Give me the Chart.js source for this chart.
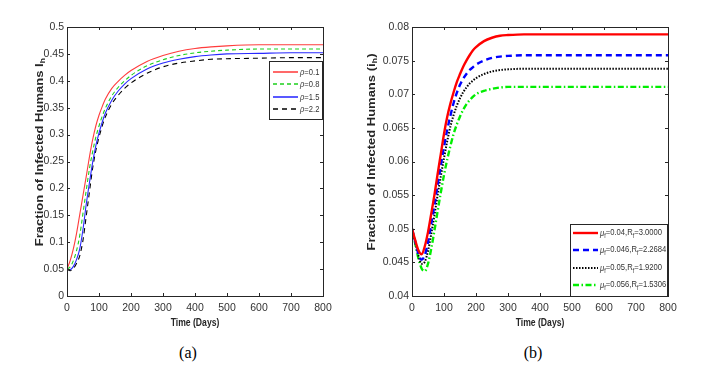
<!DOCTYPE html>
<html>
<head>
<meta charset="utf-8">
<script src="https://cdn.jsdelivr.net/npm/chart.js@4.4.0/dist/chart.umd.min.js"></script>
<style>
  body { margin: 0; background: #fff; width: 715px; height: 369px; overflow: hidden; position: relative; }
  canvas { position: absolute; top: 0; }
  #chartA { left: 0; }
  #chartB { left: 345px; }
  .cap { position: absolute; top: 344px; width: 40px; line-height: 18px; text-align: center;
         font-family: 'Liberation Serif', 'Times New Roman', serif; font-size: 16px; color: #000; }
</style>
</head>
<body>
<canvas id="chartA" width="345" height="340"></canvas>
<canvas id="chartB" width="345" height="340"></canvas>
<div class="cap" style="left:168px">(a)</div>
<div class="cap" style="left:513px">(b)</div>
<script>
// ---- data, panel (a) ----
const daysA = [0, 10, 20, 30, 40, 50, 60, 70, 80, 90, 100, 110, 120, 140, 160, 180, 200, 250, 300, 350, 400, 450, 500, 600, 700, 800];
const rho01 = [0.05, 0.066, 0.088, 0.117, 0.152, 0.187, 0.222, 0.258, 0.29, 0.316, 0.336, 0.352, 0.366, 0.386, 0.399, 0.41, 0.419, 0.436, 0.447, 0.455, 0.46, 0.463, 0.465, 0.467, 0.467, 0.467];
const rho08 = [0.05, 0.054, 0.066, 0.085, 0.113, 0.154, 0.196, 0.236, 0.268, 0.295, 0.316, 0.334, 0.349, 0.372, 0.388, 0.4, 0.41, 0.428, 0.439, 0.447, 0.452, 0.455, 0.457, 0.459, 0.459, 0.459];
const rho15 = [0.05, 0.049, 0.055, 0.068, 0.088, 0.124, 0.17, 0.21, 0.248, 0.279, 0.303, 0.323, 0.34, 0.364, 0.381, 0.394, 0.404, 0.422, 0.433, 0.44, 0.445, 0.448, 0.45, 0.451, 0.452, 0.452];
const rho22 = [0.05, 0.047, 0.051, 0.061, 0.075, 0.104, 0.148, 0.193, 0.237, 0.27, 0.295, 0.316, 0.333, 0.357, 0.373, 0.386, 0.396, 0.414, 0.426, 0.433, 0.437, 0.44, 0.441, 0.442, 0.443, 0.443];
const labelsA = ['\u03c1=0.1', '\u03c1=0.8', '\u03c1=1.5', '\u03c1=2.2'];
const yTicksA = [0, 0.05, 0.1, 0.15, 0.2, 0.25, 0.3, 0.35, 0.4, 0.45, 0.5];
const yLabelsA = ['0', '0.05', '0.1', '0.15', '0.2', '0.25', '0.3', '0.35', '0.4', '0.45', '0.5'];

// ---- data, panel (b) ----
const daysB = [0, 10, 20, 30, 40, 50, 60, 70, 80, 90, 100, 110, 120, 130, 140, 150, 160, 170, 180, 190, 200, 225, 250, 275, 300, 350, 400, 500, 600, 700, 800];
const mu040 = [0.05, 0.0483, 0.0468, 0.0462, 0.0474, 0.0495, 0.0522, 0.055, 0.0581, 0.0611, 0.0641, 0.0666, 0.0686, 0.0703, 0.0718, 0.073, 0.0741, 0.075, 0.0758, 0.0765, 0.077, 0.0779, 0.0784, 0.0787, 0.0788, 0.0789, 0.0789, 0.0789, 0.0789, 0.0789, 0.0789];
const mu046 = [0.05, 0.0481, 0.0463, 0.0454, 0.0461, 0.048, 0.0507, 0.0535, 0.0565, 0.0594, 0.0622, 0.0647, 0.0668, 0.0687, 0.0702, 0.0714, 0.0723, 0.073, 0.0736, 0.074, 0.0744, 0.075, 0.0754, 0.0756, 0.0757, 0.0758, 0.0758, 0.0758, 0.0758, 0.0758, 0.0758];
const mu050 = [0.05, 0.048, 0.046, 0.0448, 0.0451, 0.0467, 0.0492, 0.052, 0.055, 0.0578, 0.0605, 0.063, 0.0652, 0.0669, 0.0683, 0.0694, 0.0703, 0.071, 0.0716, 0.072, 0.0724, 0.073, 0.0734, 0.0736, 0.0737, 0.0738, 0.0738, 0.0738, 0.0738, 0.0738, 0.0738];
const mu056 = [0.05, 0.0478, 0.0456, 0.0441, 0.0437, 0.0448, 0.047, 0.0497, 0.0526, 0.0554, 0.058, 0.0603, 0.0623, 0.0641, 0.0655, 0.0667, 0.0677, 0.0685, 0.0691, 0.0696, 0.07, 0.0705, 0.0708, 0.071, 0.0711, 0.0711, 0.0711, 0.0711, 0.0711, 0.0711, 0.0711];
const muValues = ['0.04', '0.046', '0.05', '0.056'];
const rValues = ['3.0000', '2.2684', '1.9200', '1.5306'];
const yTicksB = [0.04, 0.045, 0.05, 0.055, 0.06, 0.065, 0.07, 0.075, 0.08];
const yLabelsB = ['0.04', '0.045', '0.05', '0.055', '0.06', '0.065', '0.07', '0.075', '0.08'];

const xTicks = [0, 100, 200, 300, 400, 500, 600, 700, 800];
const xLabels = ['0', '100', '200', '300', '400', '500', '600', '700', '800'];

const FAM = "'Liberation Sans Narrow', 'Liberation Sans', Arial, sans-serif";
const WIDE = "'Liberation Sans', Arial, sans-serif";

function pts(days, vals) {
    return days.map((d, i) => ({ x: d, y: vals[i] }));
}

// text with italic / subscript pieces
function drawRich(ctx, parts, x, y, o) {
    ctx.save();
    ctx.translate(x, y);
    if (o.rotate) ctx.rotate(o.rotate);
    ctx.scale(o.scaleX || 1, 1);
    const fontFor = p => `${p.i ? 'italic ' : ''}${o.weight || 'normal'} ${p.sub ? o.size * 0.7 : o.size}px ${o.family}`;
    let w = 0;
    parts.forEach(p => { ctx.font = fontFor(p); w += ctx.measureText(p.t).width; });
    let cx = o.align === 'left' ? 0 : -w / 2;
    ctx.textBaseline = 'middle';
    ctx.textAlign = 'left';
    ctx.fillStyle = o.color || '#262626';
    parts.forEach(p => {
        ctx.font = fontFor(p);
        ctx.fillText(p.t, cx, p.sub ? o.size * 0.32 : 0);
        cx += ctx.measureText(p.t).width;
    });
    ctx.restore();
}

// box, inward ticks, axis titles and legend box
const framePlugin = {
    id: 'frame',
    afterDraw(chart, args, opts) {
        const { ctx, chartArea: a, scales } = chart;
        ctx.save();
        ctx.strokeStyle = '#262626';
        ctx.lineWidth = 1;
        ctx.strokeRect(Math.round(a.left) + 0.5, Math.round(a.top) + 0.5, Math.round(a.width), Math.round(a.height));
        ctx.beginPath();
        scales.x.ticks.forEach(t => {
            const px = Math.round(scales.x.getPixelForValue(t.value)) + 0.5;
            ctx.moveTo(px, a.bottom); ctx.lineTo(px, a.bottom - 3);
            ctx.moveTo(px, a.top); ctx.lineTo(px, a.top + 3);
        });
        scales.y.ticks.forEach(t => {
            const py = Math.round(scales.y.getPixelForValue(t.value)) + 0.5;
            ctx.moveTo(a.left, py); ctx.lineTo(a.left + 3, py);
            ctx.moveTo(a.right, py); ctx.lineTo(a.right - 3, py);
        });
        ctx.stroke();

        drawRich(ctx, opts.xTitle, (a.left + a.right) / 2, 323, { size: 10.5, weight: 'bold', family: WIDE, scaleX: 0.82 });
        drawRich(ctx, opts.yTitle, opts.yTitleX, 152, { size: 10, weight: 'bold', family: WIDE, scaleX: 1.3, rotate: -Math.PI / 2 });

        // legend
        const L = opts.legend;
        ctx.fillStyle = '#fff';
        ctx.fillRect(L.left, L.top, L.right - L.left, L.bottom - L.top);
        ctx.strokeStyle = '#262626';
        ctx.lineWidth = 1;
        ctx.strokeRect(L.left + 0.5, L.top + 0.5, L.right - L.left, L.bottom - L.top);
        chart.data.datasets.forEach((ds, i) => {
            const y = L.rows[i];
            ctx.save();
            ctx.strokeStyle = ds.borderColor;
            ctx.lineWidth = ds.borderWidth * (L.lineScale || 1);
            ctx.setLineDash(ds.borderDash || []);
            ctx.beginPath();
            ctx.moveTo(L.lineX0, y); ctx.lineTo(L.lineX1, y);
            ctx.stroke();
            ctx.restore();
            drawRich(ctx, opts.legendText[i], L.textX, y, { size: L.size, family: WIDE, scaleX: L.scaleX, align: 'left', color: '#333' });
        });
        ctx.restore();
    }
};

function makeOptions(yMin, yMax, yTicks, yLabels, frameOpts) {
    return {
        responsive: false,
        animation: false,
        layout: { padding: { top: 27, right: 22, left: 0, bottom: 0 } },
        elements: { point: { radius: 0 }, line: { cubicInterpolationMode: 'monotone' } },
        plugins: { legend: { display: false }, tooltip: { enabled: false }, frame: frameOpts },
        scales: {
            x: {
                type: 'linear', min: 0, max: 800,
                grid: { display: false, drawTicks: false }, border: { display: false },
                afterBuildTicks: s => { s.ticks = xTicks.map(v => ({ value: v })); },
                afterFit: s => { s.height = 44; },
                ticks: { callback: v => xLabels[xTicks.indexOf(v)], padding: 6, color: '#333',
                         font: { family: FAM, size: 10.5 }, maxRotation: 0, autoSkip: false }
            },
            y: {
                type: 'linear', min: yMin, max: yMax,
                grid: { display: false, drawTicks: false }, border: { display: false },
                afterBuildTicks: s => { s.ticks = yTicks.map(v => ({ value: v })); },
                afterFit: s => { s.width = 67; },
                ticks: { callback: (v, i) => yLabels[i], padding: 3, color: '#333',
                         font: { family: FAM, size: 10.5 }, autoSkip: false }
            }
        }
    };
}

// panel (a)
new Chart(document.getElementById('chartA'), {
    type: 'line',
    data: {
        datasets: [
            { label: labelsA[0], data: pts(daysA, rho01), borderColor: '#ff3c3c', borderWidth: 1.1 },
            { label: labelsA[1], data: pts(daysA, rho08), borderColor: '#1ccf1c', borderWidth: 1.1, borderDash: [4, 3] },
            { label: labelsA[2], data: pts(daysA, rho15), borderColor: '#2828ff', borderWidth: 1.1 },
            { label: labelsA[3], data: pts(daysA, rho22), borderColor: '#000000', borderWidth: 1.1, borderDash: [5, 4] }
        ]
    },
    options: makeOptions(0, 0.5, yTicksA, yLabelsA, {
        xTitle: [{ t: 'Time (Days)' }],
        yTitle: [{ t: 'Fraction of Infected Humans I' }, { t: 'h', sub: true }],
        yTitleX: 40,
        legend: { left: 269, top: 61, right: 322, bottom: 119, rows: [72, 84, 97, 109],
                  lineX0: 273, lineX1: 298, textX: 300, size: 9.5, scaleX: 0.8, lineScale: 1.4 },
        legendText: labelsA.map(s => [{ t: s[0], i: true }, { t: s.slice(1) }])
    }),
    plugins: [framePlugin]
});

// panel (b)
new Chart(document.getElementById('chartB'), {
    type: 'line',
    data: {
        datasets: [
            { label: 'mu=' + muValues[0], data: pts(daysB, mu040), borderColor: '#ff0000', borderWidth: 2.4 },
            { label: 'mu=' + muValues[1], data: pts(daysB, mu046), borderColor: '#0000ff', borderWidth: 2.4, borderDash: [6, 4] },
            { label: 'mu=' + muValues[2], data: pts(daysB, mu050), borderColor: '#000000', borderWidth: 2, borderDash: [1.5, 1.5] },
            { label: 'mu=' + muValues[3], data: pts(daysB, mu056), borderColor: '#00ee00', borderWidth: 2.4, borderDash: [6, 2.5, 1.5, 2.5] }
        ]
    },
    options: makeOptions(0.04, 0.08, yTicksB, yLabelsB, {
        xTitle: [{ t: 'Time (Days)' }],
        yTitle: [{ t: 'Fraction of Infected Humans (i' }, { t: 'h', sub: true }, { t: ')' }],
        yTitleX: 27,
        legend: { left: 225, top: 224, right: 322, bottom: 296, rows: [233, 250, 268, 285],
                  lineX0: 228, lineX1: 253, textX: 255, size: 9, scaleX: 0.85 },
        legendText: muValues.map((m, i) => [
            { t: '\u03bc', i: true }, { t: 'f', sub: true }, { t: '=' + m + ',R' }, { t: 'f', sub: true }, { t: '=' + rValues[i] }
        ])
    }),
    plugins: [framePlugin]
});
</script>
</body>
</html>
